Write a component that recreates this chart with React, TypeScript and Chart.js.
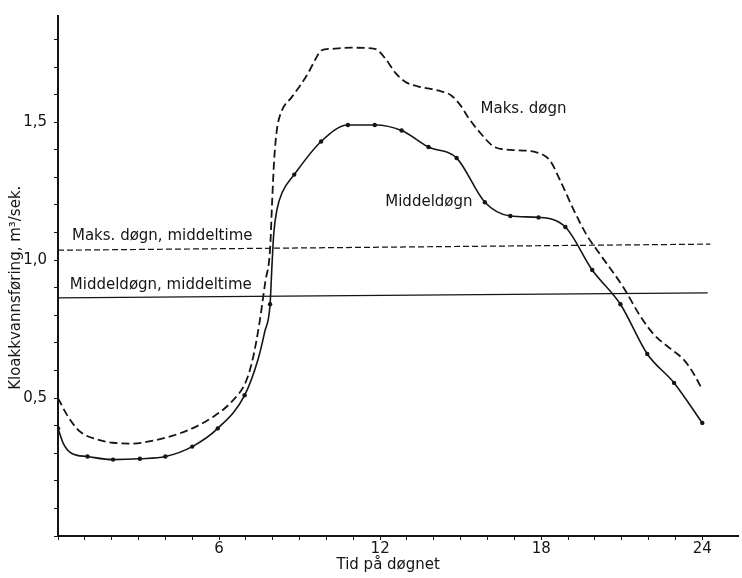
import React, { useEffect, useRef } from "react";
import { Chart, registerables } from "chart.js";

Chart.register(...registerables);

// ---- Data ----
// Middeldøgn: measured hourly points (dots)
const middelDotHours = [0, 1.1, 2.05, 3.05, 4, 5, 5.95, 6.95, 7.9, 8.8, 9.8, 10.8, 11.8, 12.8, 13.8, 14.85, 15.9, 16.85, 17.9, 18.9, 19.9, 20.95, 21.95, 22.95, 24];
const middelDotValues = [0.39, 0.288, 0.277, 0.28, 0.288, 0.324, 0.39, 0.51, 0.84, 1.31, 1.43, 1.49, 1.49, 1.47, 1.41, 1.37, 1.21, 1.16, 1.155, 1.12, 0.964, 0.84, 0.66, 0.555, 0.41];
// Middeldøgn: extra curve points read where the curve bends sharply
const middelCurveHours = [0.2, 0.5, 7.45, 7.7, 7.97, 8.04, 8.16, 8.35];
const middelCurveValues = [0.335, 0.3, 0.64, 0.74, 0.98, 1.1, 1.185, 1.245];

// Maks. døgn (dashed curve)
const maksHours = [0, 0.33, 0.8, 1.45, 2.05, 2.8, 3.5, 4.25, 5.0, 5.75, 6.5, 7.0, 7.25, 7.5, 7.72, 7.9, 7.98, 8.05, 8.15, 8.33, 8.7, 9.07, 9.33, 9.6, 9.8, 10.2, 10.93, 11.8, 12.2, 12.56, 12.93, 13.4, 14.15, 14.65, 15.0, 15.26, 15.74, 16.26, 16.85, 17.85, 18.33, 18.7, 19.22, 19.7, 20.2, 21.07, 21.67, 22.2, 22.8, 23.3, 23.67, 24.0];
const maksValues = [0.5, 0.44, 0.38, 0.35, 0.338, 0.335, 0.345, 0.363, 0.39, 0.43, 0.49, 0.56, 0.64, 0.77, 0.92, 1.04, 1.22, 1.36, 1.47, 1.54, 1.59, 1.64, 1.68, 1.73, 1.76, 1.766, 1.77, 1.766, 1.73, 1.68, 1.647, 1.63, 1.615, 1.597, 1.56, 1.52, 1.46, 1.41, 1.4, 1.39, 1.36, 1.29, 1.18, 1.09, 1.02, 0.9, 0.8, 0.73, 0.68, 0.64, 0.59, 0.53];

// Mean-hour reference lines
const maksMiddeltimeHours = [0, 24.3];
const maksMiddeltimeValues = [1.036, 1.058];
const middelMiddeltimeHours = [0, 24.2];
const middelMiddeltimeValues = [0.863, 0.881];

// Tick labels
const xLabeledHours = [6, 12, 18, 24];
const yLabeledValues = [0.5, 1.0, 1.5];

// Texts
const xTitle = "Tid på døgnet";
const yTitle = "Kloakkvannsføring, m³/sek.";
const labelTexts = ["Maks. døgn, middeltime", "Middeldøgn, middeltime", "Maks. døgn", "Middeldøgn"];
const labelHours = [0.52, 0.44, 15.74, 12.19];
const labelValues = [1.072, 0.896, 1.532, 1.198];

const FONT = '"DejaVu Sans", sans-serif';
const INK = "#151515";

const pts = (xs: number[], ys: number[]) => xs.map((x, i) => ({ x, y: ys[i] }));
const merged = (a: { x: number; y: number }[], b: { x: number; y: number }[]) =>
  [...a, ...b].sort((p, q) => p.x - q.x);

const textPlugin = {
  id: "figureTexts",
  afterDraw(chart: any) {
    const { ctx, chartArea } = chart;
    const xs = chart.scales.x;
    const ys = chart.scales.y;
    ctx.save();
    ctx.fillStyle = INK;
    ctx.font = `15px ${FONT}`;
    ctx.textBaseline = "alphabetic";
    ctx.textAlign = "left";
    labelTexts.forEach((t, i) => {
      ctx.fillText(t, xs.getPixelForValue(labelHours[i]), ys.getPixelForValue(labelValues[i]));
    });
    ctx.textAlign = "center";
    ctx.fillText(xTitle, xs.getPixelForValue(12.3), chart.height - 9);
    ctx.translate(chartArea.left - 42, ys.getPixelForValue(0.9));
    ctx.rotate(-Math.PI / 2);
    ctx.textBaseline = "middle";
    ctx.fillText(yTitle, 0, 0);
    ctx.restore();
  },
};

export default function App() {
  const ref = useRef<HTMLCanvasElement>(null);
  useEffect(() => {
    document.body.style.margin = "0";
    const middelDots = pts(middelDotHours, middelDotValues);
    const middelLine = merged(middelDots, pts(middelCurveHours, middelCurveValues));
    const chart = new Chart(ref.current as HTMLCanvasElement, {
      type: "line",
      data: {
        datasets: [
          {
            data: pts(maksHours, maksValues),
            borderColor: INK,
            borderWidth: 1.8,
            borderDash: [8, 4],
            pointRadius: 0,
            cubicInterpolationMode: "monotone",
            fill: false,
          },
          {
            data: middelLine,
            borderColor: INK,
            borderWidth: 1.6,
            pointRadius: 0,
            cubicInterpolationMode: "monotone",
            fill: false,
          },
          {
            data: middelDots,
            showLine: false,
            pointRadius: 2.2,
            pointBackgroundColor: INK,
            pointBorderWidth: 0,
          },
          {
            data: pts(maksMiddeltimeHours, maksMiddeltimeValues),
            borderColor: INK,
            borderWidth: 1.2,
            borderDash: [6, 3],
            pointRadius: 0,
            tension: 0,
          },
          {
            data: pts(middelMiddeltimeHours, middelMiddeltimeValues),
            borderColor: INK,
            borderWidth: 1.2,
            pointRadius: 0,
            tension: 0,
          },
        ] as any,
      },
      options: {
        responsive: false,
        devicePixelRatio: 1,
        animation: false,
        layout: { padding: { top: 12, left: 0, right: 0, bottom: 0 } },
        plugins: { legend: { display: false }, tooltip: { enabled: false } },
        scales: {
          x: {
            type: "linear",
            min: 0,
            max: 25.33,
            afterFit: (s: any) => {
              s.height = 42;
            },
            afterBuildTicks: (s: any) => {
              s.ticks = s.ticks.filter((t: any) => t.value <= 24.001);
            },
            ticks: {
              stepSize: 1,
              includeBounds: false,
              autoSkip: false,
              maxRotation: 0,
              padding: 0,
              color: INK,
              font: { family: FONT, size: 15 },
              callback: (v: any) => (xLabeledHours.includes(Math.round(v)) && Math.abs(v - Math.round(v)) < 1e-6 ? String(Math.round(v)) : ""),
            },
            grid: { display: true, drawOnChartArea: false, drawTicks: true, tickLength: 4, color: INK, lineWidth: 1 },
            border: { display: true, color: INK, width: 2 },
          },
          y: {
            type: "linear",
            min: 0,
            max: 1.885,
            afterFit: (s: any) => {
              s.width = 58;
            },
            ticks: {
              stepSize: 0.1,
              includeBounds: false,
              autoSkip: false,
              padding: 7,
              color: INK,
              font: { family: FONT, size: 15 },
              callback: (v: any) => {
                const r = Math.round(Number(v) * 10) / 10;
                return yLabeledValues.some((l) => Math.abs(l - r) < 1e-6) && Math.abs(Number(v) - r) < 1e-6
                  ? r.toFixed(1).replace(".", ",")
                  : "";
              },
            },
            grid: { display: true, drawOnChartArea: false, drawTicks: true, tickLength: 4, color: INK, lineWidth: 1 },
            border: { display: true, color: INK, width: 2 },
          },
        },
      } as any,
      plugins: [textPlugin],
    });
    return () => chart.destroy();
  }, []);
  return (
    <div style={{ position: "fixed", left: 0, top: 0, width: 742, height: 578, background: "#fff" }}>
      <canvas ref={ref} width={742} height={578} style={{ display: "block", width: 742, height: 578 }} />
    </div>
  );
}
